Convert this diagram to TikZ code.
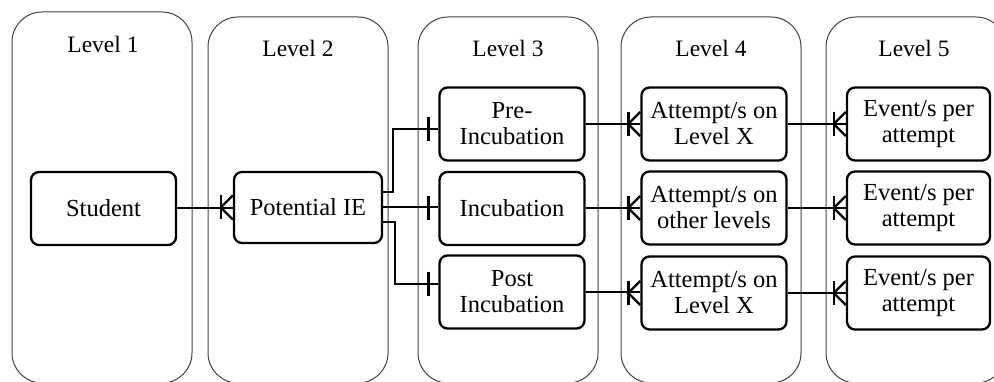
\documentclass[tikz,border=0pt]{standalone}
\usepackage{fontspec}
\setmainfont{Liberation Serif}
\usetikzlibrary{calc}

% "one or many" end: bar plus crow's foot touching the west side of a node
\newcommand\ercrow[2]{%
  \draw[tick] ([xshift=-12pt,yshift=#2+12pt]#1.west) -- ([xshift=-12pt,yshift=#2-12pt]#1.west);
  \draw[tick] ([yshift=#2+12pt]#1.west) -- ([xshift=-12pt,yshift=#2]#1.west) -- ([yshift=#2-12pt]#1.west);}
% "exactly one" end: single bar before the west side of a node
\newcommand\erone[2]{%
  \draw[tick] ([xshift=-10pt,yshift=#2+12pt]#1.west) -- ([xshift=-10pt,yshift=#2-12pt]#1.west);}

\begin{document}
\begin{tikzpicture}[x=1pt,y=-1pt,
  lane/.style={draw=black!75, line width=1pt, rounded corners=30pt},
  lanelabel/.style={font=\fontsize{23.5}{26}\selectfont, inner sep=0pt},
  entity/.style={draw, line width=2.3pt, rounded corners=8pt,
    minimum width=145pt, minimum height=73pt, align=center, inner sep=2pt,
    font=\fontsize{24.5}{26}\selectfont},
  conn/.style={line width=2pt},
  tick/.style={line width=2.3pt}]

\useasboundingbox (0,0) rectangle (994,382);
\clip (0,0) rectangle (994,382);

% swimlanes
\draw[lane] (12,12) rectangle (192,383);
\draw[lane] (208,17) rectangle (388,383);
\draw[lane] (418,17) rectangle (598,383);
\draw[lane] (621,17) rectangle (801,383);
\draw[lane] (826,17) rectangle (1006,383);

\node[lanelabel] (l1) at (103,44) {Level 1};
\node[lanelabel] (l2) at (298,48) {Level 2};
\node[lanelabel] (l3) at (508,48) {Level 3};
\node[lanelabel] (l4) at (711,48) {Level 4};
\node[lanelabel] (l5) at (914,48) {Level 5};

% entities
\node[entity] (stu) at (103.5,208.5) {Student};
\node[entity, minimum width=148pt, minimum height=71pt] (pie) at (308,207.5) {Potential IE};

\node[entity] (pre)  at (512,124)   {Pre-\\Incubation};
\node[entity] (inc)  at (512,208.5) {Incubation};
\node[entity] (post) at (512,292)   {Post\\Incubation};

\node[entity] (a1) at (714,124) {Attempt/s on\\Level X};
\node[entity] (a2) at (714,208) {Attempt/s on\\other levels};
\node[entity] (a3) at (714,293) {Attempt/s on\\Level X};

\node[entity, minimum width=143pt] (e1) at (918.5,124) {Event/s per\\attempt};
\node[entity, minimum width=143pt] (e2) at (918.5,208) {Event/s per\\attempt};
\node[entity, minimum width=143pt] (e3) at (918.5,293) {Event/s per\\attempt};

% relationships
\draw[conn] (stu.east) -- (stu.east -| pie.west);
\ercrow{pie}{0pt}

\draw[conn] ([yshift=15.5pt]pie.east) -- ++(10,0) |- ([yshift=-5pt]pre.west);
\erone{pre}{-5pt}
\draw[conn] (pie.east) -- (pie.east -| inc.west);
\erone{inc}{0pt}
\draw[conn] ([yshift=-14.5pt]pie.east) -- ++(12,0) |- ([yshift=8pt]post.west);
\erone{post}{8pt}

\draw[conn] (pre.east) -- (pre.east -| a1.west);
\ercrow{a1}{0pt}
\draw[conn] (inc.east) -- (inc.east -| a2.west);
\ercrow{a2}{0pt}
\draw[conn] (post.east) -- (post.east -| a3.west);
\ercrow{a3}{0pt}

\draw[conn] (a1.east) -- (a1.east -| e1.west);
\ercrow{e1}{0pt}
\draw[conn] (a2.east) -- (a2.east -| e2.west);
\ercrow{e2}{0pt}
\draw[conn] (a3.east) -- (a3.east -| e3.west);
\ercrow{e3}{0pt}
\end{tikzpicture}
\end{document}
